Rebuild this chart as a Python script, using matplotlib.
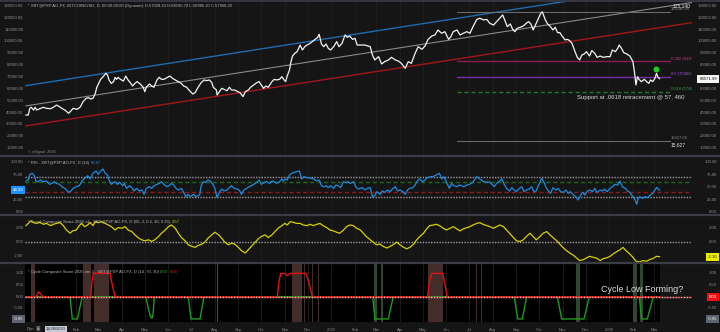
import datetime as dt
import numpy as np
import matplotlib
matplotlib.use("Agg")
import matplotlib.pyplot as plt
import matplotlib.dates as mdates
from matplotlib.transforms import blended_transform_factory as btf

plt.rcParams['font.family'] = ['Liberation Sans', 'DejaVu Sans']

# ---------------- data ----------------
START = dt.datetime(2023, 11, 27)   # day 0

price_days = [0,3,5,7,10,12,14,18,23,27,32,36,40,44,47,51,56,58,62,67,71,75,79,82,85,88,91,93,96,98,
              102,105,107,109,112,115,117,119,121,124,128,131,134,137,140,143,146,150,154,156,158,162,165,168,
              172,175,178,181,185,189,193,196,200,204,207,211,214,219,222,226,230,234,237,241,244,246,250,251,
              254,257,260,264,267,270,274,278,281,285,288,292,295,299,303,306,309,312,315,318,323,326,329,333,
              336,339,341,343,346,348,350,353,356,360,363,366,369,373,376,380,383,385,388,391,394,397,400,404,
              408,411,415,419,422,425,429,432,435,
              439,445,452,455,458,463,467,471,476,480,485,489,493,498,502,506,511,515,520,524,528,533,537,541,
              546,550,555,558,561,566,570,574,579,583,587,592,596,601,605,609,614,618,622,626,629,632,636,639,
              642,645,649,653,657,660,663,666,670,673,676,678,682,685,688,692,695,698,701,704,708,711,714,717,
              721,724,727,730,733,736,740,743,747,750,754,758,763,767,770,774,777,779,782,785,789,793,797,799,
              801,803,805,808,812,815,818,820,823,826,828,830,832]
price_vals = [37900,37900,43500,44400,42100,44400,42100,43200,44400,43500,43200,44400,46300,44900,43500,42100,
              39300,40700,43500,42700,44400,49200,52000,52500,51400,52000,56200,61300,65200,68000,
              70800,73100,71700,67500,64600,66100,69700,68000,69700,68000,66600,70800,67500,65200,62400,64600,
              66100,64100,61300,57600,61300,64100,62400,61300,
              67500,69700,68000,68000,69400,70800,68600,67500,66100,64600,62400,61300,59000,55600,56800,61300,
              65200,67500,66900,67500,65200,61300,59000,54800,
              57600,60400,59600,58400,61300,59000,59000,57600,56800,53400,57600,59000,61300,63200,65200,66100,
              63200,60400,62400,61300,66100,68000,67500,68000,
              70300,67500,66100,70800,75900,83000,87700,90000,91400,97000,92800,95600,97000,98400,99900,101800,
              103500,106100,97900,95600,97900,94200,92800,95600,
              99900,95600,98400,105500,103500,104600,101800,102700,97000,
              97000,97000,95600,88600,84400,87200,81000,83000,84400,86600,84400,83500,81500,77300,83000,81500,
              90000,95600,93400,96200,101800,104600,105500,109700,
              106900,108300,101800,104100,108300,109700,105500,106900,108300,106900,112500,118700,119600,118200,
              118700,115400,113900,116800,119600,122400,117600,112500,114800,110300,
              108300,111100,112000,113100,115400,116800,114800,109700,115400,119600,123800,125100,118200,114800,
              113100,109700,112000,107500,107500,104600,101300,101800,100700,98400,
              91400,86600,84400,88600,89400,91400,87700,92300,90000,86600,87700,86600,87200,87200,92800,91400,
              94200,97000,94200,90600,89400,87700,83000,74500,
              63200,70300,68000,66100,68000,66100,64600,67500,66100,68900,73100,69700,68572]

rsi_days = [0,3,5,8,11,13,16,19,23,27,31,34,37,40,44,47,51,56,59,62,66,70,73,76,81,84,88,92,95,98,
            101,104,107,109,112,115,117,120,123,127,129,132,136,139,142,145,149,152,155,158,162,165,168,172,
            175,178,181,185,188,191,194,197,200,204,207,210,213,216,220,223,228,230,233,236,239,243,246,248,
            251,254,257,260,264,267,270,273,277,280,283,286,290,293,296,299,303,306,309,313,316,320,323,326,
            329,333,336,338,340,343,346,349,352,355,359,362,365,369,372,375,378,382,385,388,391,394,397,400,
            404,407,410,413,417,420,423,426,430,433,436,
            439,442,445,448,452,455,458,461,465,468,471,475,478,482,485,488,491,495,498,501,504,508,511,514,
            517,521,524,527,531,534,537,540,543,546,549,552,556,559,562,566,569,572,575,579,582,585,588,592,
            595,598,601,605,608,612,615,618,622,625,628,631,635,638,641,644,648,651,654,657,661,664,667,670,
            673,675,677,680,683,686,689,692,696,699,702,706,709,712,715,719,722,725,728,731,734,737,741,744,
            747,750,754,757,760,763,767,770,773,777,780,783,787,790,793,797,800,802,804,806,810,813,816,819,
            823,826,828,830,832]
rsi_vals = [62.7,64.7,76,78,73.3,62.7,61.3,64.7,61.3,62.7,56,58,61.3,58,56,51.3,48,40,42.7,48,
            51.3,53.3,61.3,66.7,73.3,66.7,78,82.7,76,82.7,86.7,78,74.7,64.7,56,60,61.3,56,60,53.3,
            58,48,53.3,49.3,42.7,48,42.7,44.7,36,48,51.3,48,53.3,56,58,61.3,56,51.3,53.3,58,
            54.7,48,44.7,48,40,31.3,36,31.3,36,31.3,34.7,53.3,61.3,60,64.7,61.3,54.7,48,29.3,40,
            46.7,42.7,44.7,49.3,53.3,48,46.7,44.7,36,44.7,48,51.3,53.3,56,60,64.7,56,60,61.3,58,
            62.7,61.3,58,61.3,66.7,62.7,66.7,64.7,74.7,78,80,81.3,82.7,66.7,71.3,69.3,69.3,68,66.7,62.7,
            64.7,53.3,51.3,53.3,49.3,53.3,48,54.7,53.3,49.3,61.3,60,61.3,58,61.3,51.3,46.7,
            48,49.3,44.7,48,49.3,31.3,33.3,41.3,36,42.7,40,44.7,41.3,48,51.3,42.7,44.7,41.3,36,44.7,
            48,49.3,54.7,62.7,66.7,61.3,64.7,69.3,71.3,71.3,73.3,76,78,66.7,71.3,61.3,48,58,53.3,51.3,
            54.7,53.3,51.3,54.7,56,58,62.7,71.3,68,64.7,61.3,60,61.3,56,51.3,58,62.7,66.7,56,48,
            42.7,49.3,44.7,41.3,48,51.3,41.3,44.7,46.7,51.3,41.3,42.7,54.7,60,68,61.3,49.3,42.7,38,49.3,
            44.7,48,41.3,40,44.7,38,41.3,34.7,31.3,24.7,33.3,40,34.7,42.7,44.7,41.3,48,40,44.7,42.7,
            46.7,41.3,48,51.3,56,54.7,62.7,51.3,48,42.7,40,31.3,24.7,16,28,31.3,28,31.3,29.3,33.3,
            38,44.7,50,46.7,44.39]

trend_days = [0,3,6,10,14,18,23,27,32,36,40,45,49,53,58,61,66,70,73,77,81,84,88,91,95,99,104,108,112,117,
              121,126,130,134,139,143,148,152,156,161,165,169,174,178,183,187,191,196,200,204,209,213,218,222,
              226,231,235,239,244,248,253,257,261,266,270,274,279,283,288,292,296,301,305,309,314,318,323,327,
              331,336,340,343,347,351,355,360,364,369,373,377,382,386,390,395,399,404,408,412,417,421,425,430,434,
              439,443,447,452,456,460,465,469,474,478,482,487,491,496,500,504,509,513,517,522,526,530,535,539,
              543,548,552,557,561,566,570,574,579,583,587,592,596,600,605,609,614,618,622,627,631,635,640,644,
              649,653,657,662,666,670,675,679,684,688,692,697,701,705,710,714,719,723,727,732,736,740,745,749,
              754,758,762,767,771,775,780,784,788,793,797,801,806,810,815,819,823,828,832]
trend_vals = [2.28,2.6,2.93,2.7,2.6,2.74,2.47,2.6,2.28,2.47,2.6,2.7,2.28,1.67,1.21,1.53,1.67,2.28,2.6,2.14,
              2.37,2.74,2.28,2.84,2.7,2.84,2.6,2.37,2.14,1.67,2.0,1.91,2.14,1.67,1.44,0.98,0.51,0.28,0.14,0.28,
              0.05,0.28,0.74,1.21,1.67,2.14,2.37,1.91,1.21,0.6,0.14,-0.42,-0.65,-0.79,-0.51,-0.33,-0.05,0.51,0.98,1.35,
              0.98,0.51,-0.05,-0.42,-0.19,-0.33,-0.79,-1.26,-1.58,-1.12,-0.65,-0.05,0.42,0.74,0.98,0.6,0.98,1.44,1.91,2.28,
              2.6,2.37,2.84,2.74,2.6,2.6,2.37,2.28,2.47,2.28,2.47,2.6,2.28,2.0,1.67,1.53,1.35,1.21,1.67,2.14,
              2.37,2.28,1.91,
              1.67,1.21,0.74,0.28,-0.05,-0.42,-0.33,-0.65,-0.88,-0.65,-0.42,-0.05,-0.42,-0.79,-0.98,-0.79,-0.33,0.28,0.74,1.21,
              1.81,2.28,2.37,2.47,2.28,1.91,1.67,1.91,2.14,1.81,1.53,1.81,2.0,2.14,2.37,2.6,2.7,2.47,2.28,2.14,
              1.91,2.14,2.37,2.14,1.67,1.21,0.6,0.14,0.05,0.28,0.74,1.21,0.74,0.28,0.74,1.21,1.44,0.98,0.6,0.14,
              -0.33,-0.79,-1.26,-1.58,-1.91,-2.28,-2.65,-2.51,-2.28,-2.05,-2.19,-2.28,-2.65,-2.37,-2.28,-2.05,-1.72,-1.44,-1.12,-0.79,
              -1.26,-1.72,-2.19,-2.74,-2.84,-2.65,-2.74,-2.51,-2.37,-2.05,-2.1]

cyc_red_days = [0,13,15,17,19,22,85,86.5,88.4,110.3,113,116.9,330,332,334.5,340,343.1,346.7,367.7,372,376,
                527.5,529.5,532.8,547.2,550,553.2,832]
cyc_red_vals = [0,0,0.12,0.21,0.12,0,0,0.6,1,1,0.55,0,0,0.6,1,1,0.9,1,1,0.55,0,
                0,0.6,1,1,0.55,0,0]
cyc_green_days = [0,57.8,60.8,67.4,73.9,157.6,160.5,163.5,165.5,167,168.5,213.1,216.7,228.5,233.7,
                  455.3,458.3,475.8,482.3,641.2,645.7,651.7,657.5,697.7,703.5,732.8,739.7,
                  805.4,808.5,815.9,823.8,832]
cyc_green_vals = [0,0,-0.95,-0.95,0,0,-0.5,-0.85,-0.92,-0.7,0,0,-0.95,-0.95,0,
                  0,-0.95,-0.95,0,0,-0.95,-0.95,0,0,-0.95,-0.95,0,
                  0,-0.95,-0.95,0,0]
brown_bands = [(6.2,12.2),(75.2,85.0),(89.7,109.4),(348.9,362.8),(365.0,366.3),(375.5,376.8),
               (383.3,384.6),(528.3,547.6),(591.3,592.6),(597.8,599.1)]
green_bands = [(457.4,460.5),(466.2,468.8),(722.3,727.5),(797.5,802.0),(806.3,809.8)]
cycle_marker_day = 251.2

channel_days = [0, 875]
channel_upper = [62700, 150600]
channel_mid = [45600, 133000]
channel_lower = [28700, 116000]

fib_hi, fib_lo = 125140, 15627
fib_ratios = [0.382, 0.5, 0.618]
fib_days = [566, 845.7]
signal_day, signal_val = 827, 77000
last_price = 68571.99

main_ticks = list(range(10000, 130001, 10000))
rsi_ticks = [0, 25, 50, 75, 100]
trend_ticks = [-2, 0, 2]
cyc_ticks = [-0.5, 0, 0.5, 1.0]

# ---------------- figure ----------------
W, H = 720, 332
fig = plt.figure(figsize=(W / 100, H / 100), dpi=100)
BG = '#151515'
fig.patch.set_facecolor(BG)
LBL = '#8e8e8e'
FS = 3.1


def rect(x0, y0, x1, y1):
    return [x0 / W, 1 - y1 / H, (x1 - x0) / W, (y1 - y0) / H]


t0 = mdates.date2num(START)


def X(d):
    return t0 + np.asarray(d, dtype=float)


XL = (float(X(-1.3)), float(X(874.6)))

months = []
for y in (2024, 2025, 2026):
    for m in range(1, 13):
        d = dt.datetime(y, m, 1)
        if dt.datetime(2024, 2, 1) <= d <= dt.datetime(2026, 3, 1):
            months.append(d)
mlabels = [str(d.year) if d.month == 1 else d.strftime('%b') for d in months]
mnums = mdates.date2num(months)

ax1 = fig.add_axes(rect(25, 1, 692, 155))
ax2 = fig.add_axes(rect(25, 157, 692, 214))
ax3 = fig.add_axes(rect(25, 216, 692, 262))
ax4 = fig.add_axes(rect(25, 264, 692, 322))

for ax in (ax1, ax2, ax3, ax4):
    ax.set_facecolor(BG)
    for s in ax.spines.values():
        s.set_visible(False)
    ax.set_xlim(*XL)
    ax.tick_params(length=0, labelleft=False, labelbottom=False)
    ax.set_yticks([])
    for xm in mnums:
        ax.axvline(xm, color='#1f1f1f', lw=0.6, zorder=0.5)


def ylabels(ax, vals, skip_left=(), skip_right=()):
    tr = btf(ax.transAxes, ax.transData)
    for v in vals:
        s = f'{v:.2f}'
        if v not in skip_left:
            ax.text(-0.0025, v, s, transform=tr, ha='right', va='center', fontsize=FS,
                    color=LBL, clip_on=False)
        if v not in skip_right:
            ax.text(1.0375, v, s, transform=tr, ha='right', va='center', fontsize=FS,
                    color=LBL, clip_on=False)


def vbox(ax, xa, v, s, fc, tc, ha='right'):
    tr = btf(ax.transAxes, ax.transData)
    ax.text(xa, v, s, transform=tr, ha=ha, va='center', fontsize=FS, color=tc, zorder=20,
            clip_on=False, bbox=dict(boxstyle='square,pad=0.45', fc=fc, ec='none'))


def ftext(xp, yp, s, **kw):
    return fig.text(xp / W, 1 - yp / H, s, **kw)


def title(ax, ypos, parts):
    prev = None
    for s, c in parts:
        if prev is None:
            prev = ax.text(0.0045, ypos, s, transform=ax.transAxes, fontsize=3.0, color=c,
                           ha='left', va='center', zorder=30)
        else:
            prev = ax.annotate(s, xy=(1, 0), xycoords=prev, xytext=(1.0, 0),
                               textcoords='offset points', fontsize=3.0, color=c,
                               ha='left', va='bottom', zorder=30)
    return prev


# ---------- main pane ----------
ax1.set_ylim(4100, 134200)
ylabels(ax1, main_ticks, skip_right=(70000,))
ax1.plot(X(channel_days), channel_upper, color='#1f6cb0', lw=1.0, zorder=2)
ax1.plot(X(channel_days), channel_mid, color='#8a8a8a', lw=0.8, zorder=2)
ax1.plot(X(channel_days), channel_lower, color='#a3161a', lw=1.0, zorder=2)

fx = X(fib_days)
ax1.plot(fx, [fib_hi, fib_hi], color='#6a6a6a', lw=0.8, zorder=2)
ax1.plot(fx, [fib_lo, fib_lo], color='#6a6a6a', lw=0.8, zorder=2)
fib_cols = ['#8b1d52', '#7b2aa8', '#1f7a2a']
fib_tcols = ['#c23a78', '#a454d6', '#2f9e3e']
for r, c, tc in zip(fib_ratios, fib_cols, fib_tcols):
    lvl = fib_hi - r * (fib_hi - fib_lo)
    ax1.plot(fx, [lvl, lvl], color=c, lw=1.0, ls=(0, (3, 2)) if r == 0.618 else '-', zorder=2)
    ax1.text(fx[1] + 1, lvl + 300, f'{r:g} ({lvl:.2f})', fontsize=3.0, color=tc,
             ha='left', va='bottom', clip_on=True)
ax1.text(fx[1] + 1, fib_hi + 300, f'{fib_hi:.2f}', fontsize=3.0, color='#8a8a8a',
         ha='left', va='bottom', clip_on=True)
ax1.text(fx[1] + 1, fib_lo + 1200, f'{fib_lo:.2f}', fontsize=3.0, color='#8a8a8a',
         ha='left', va='bottom', clip_on=True)
tr1 = btf(ax1.transAxes, ax1.transData)
ax1.text(0.998, fib_hi + 5200, f'{fib_hi:,}', transform=tr1, fontsize=3.5, color='#e8e8e8',
         ha='right', va='center')
ax1.text(0.990, fib_lo - 3300, f'{fib_lo:,}', transform=tr1, fontsize=3.5, color='#e8e8e8',
         ha='right', va='center')

ax1.plot(X(price_days), price_vals, color='#f4f4f4', lw=0.9, zorder=4)
ax1.plot(X([signal_day]), [signal_val], marker='o', ms=3.2, color='#22d022', zorder=5, ls='none')
ax1.text(X(723), 52400, 'Support at .0618 retracement @ 57, 460', fontsize=4.3,
         color='#d6d6d6', ha='left', va='center', zorder=6)
vbox(ax1, 1.0375, last_price, f'{last_price:.2f}', '#f4f4f4', '#111111')
title(ax1, 0.968, [('* XBT@PXP AO-FX, BITCOIN/USD, D, 00:00-00:00 (Dynamic) O:57028.10 '
                    'H:58590.70 L:56985.10 C:57968.20', '#b8b8b8')])
ax1.text(0.0045, 0.02, '\u00a9 eSignal, 2026', transform=ax1.transAxes, fontsize=2.8,
         color='#8a8a8a', ha='left', va='center')

# ---------- RSI pane ----------
ax2.set_ylim(-3.3, 110.7)
ylabels(ax2, rsi_ticks, skip_left=(50,))
ax2.axhline(70, color='#9a9a9a', lw=1.0, ls=(0, (1, 1)), zorder=2)
ax2.axhline(30, color='#9a9a9a', lw=1.0, ls=(0, (1, 1)), zorder=2)
ax2.axhline(60, color='#1c6a1c', lw=1.0, ls=(0, (3, 2)), zorder=2)
ax2.axhline(40, color='#8e1a1a', lw=1.0, ls=(0, (3, 2)), zorder=2)
ax2.plot(X(rsi_days), rsi_vals, color='#1f8ae0', lw=0.9, zorder=4)
title(ax2, 0.9, [('* RSI - XBT@PXP AO-FX, D (14)', '#b8b8b8'), ('63.67', '#2a90e8')])
vbox(ax2, -0.0025, rsi_vals[-1], f'{rsi_vals[-1]:.2f}', '#1e90ff', '#ffffff')

# ---------- Trend pane ----------
ax3.set_ylim(-2.85, 3.64)
ylabels(ax3, trend_ticks)
ax3.axhline(0, color='#9a9a9a', lw=1.0, ls=(0, (1, 1)), zorder=2)
ax3.plot(X(trend_days), trend_vals, color='#d9d000', lw=0.9, zorder=4)
title(ax3, 0.88, [('* Trend Composite Score 2026 v2 - XBT@PXP AO-FX, D (65, 2, 0.2, 10, 0.15)', '#b8b8b8'),
                  ('2.57', '#e0d400')])
vbox(ax3, 1.0375, trend_vals[-1], f'{trend_vals[-1]:.2f}', '#ecec00', '#222222')

# ---------- Cycle pane ----------
ax4.set_ylim(-1.08, 1.40)
ax4.axvspan(XL[0], X(832.6), color='#000000', zorder=0.3, lw=0)
for a, b in brown_bands:
    ax4.axvspan(X(a), X(b), color='#432d2b', zorder=1, lw=0)
for a, b in green_bands:
    ax4.axvspan(X(a), X(b), color='#2f452f', zorder=1, lw=0)
ax4.axvline(X(cycle_marker_day), color='#3e5a3e', lw=0.7, zorder=1)
ylabels(ax4, cyc_ticks, skip_right=(0,))
ax4.plot(X(cyc_green_days), cyc_green_vals, color='#1f9a1f', lw=1.0, zorder=3)
ax4.plot(X(cyc_red_days), cyc_red_vals, color='#e01212', lw=1.0, zorder=3)
ax4.axhline(0, color='#d8d8d8', lw=1.0, ls=(0, (1, 1)), zorder=4)
ax4.axhline(0, color='#d42020', lw=1.0, ls=(1, (1, 1)), zorder=4)
ax4.text(X(755), 0.33, 'Cycle Low Forming?', fontsize=6.5, color='#dcdcdc',
         ha='left', va='center', zorder=6)
title(ax4, 0.86, [('* Cycle Composite Score 2025 ver 2 - XBT@PXP AO-FX, D (14, 70, 30)', '#b8b8b8'),
                  ('0.00', '#2fb52f'), ('0.00', '#e02020')])
vbox(ax4, 1.0375, 0.0, '0.00', '#ee1111', '#ffffff')
vbox(ax4, 1.0375, -0.95, '-0.95', '#5e6372', '#f0f0f0')
vbox(ax4, -0.0025, -0.95, '-0.95', '#5e6372', '#f0f0f0')

ax4.set_xticks(mnums)
ax4.set_xticklabels(mlabels)
ax4.tick_params(axis='x', length=0, pad=4.2, labelsize=3.0, labelcolor='#8a8a8a',
                labelbottom=True)

# bottom strip items
ftext(27, 329, 'Dyn', fontsize=3.0, color='#a0a0a0', ha='left', va='center')
ftext(38, 329, '\u25a3', fontsize=3.4, color='#9a9a9a', ha='center', va='center')
ftext(56, 329, '11/28/2023', fontsize=3.0, color='#1c2233', ha='center', va='center',
      bbox=dict(boxstyle='square,pad=0.35', fc='#c5cad5', ec='none'))

# pane separators
for yp, lw in ((0.6, 1.2), (156, 1.6), (215, 1.6), (263, 1.6)):
    fig.add_artist(plt.Line2D([0, 1], [1 - yp / H, 1 - yp / H], color='#3a3d44', lw=lw))

fig.savefig('out.png', dpi=100, facecolor=BG)
